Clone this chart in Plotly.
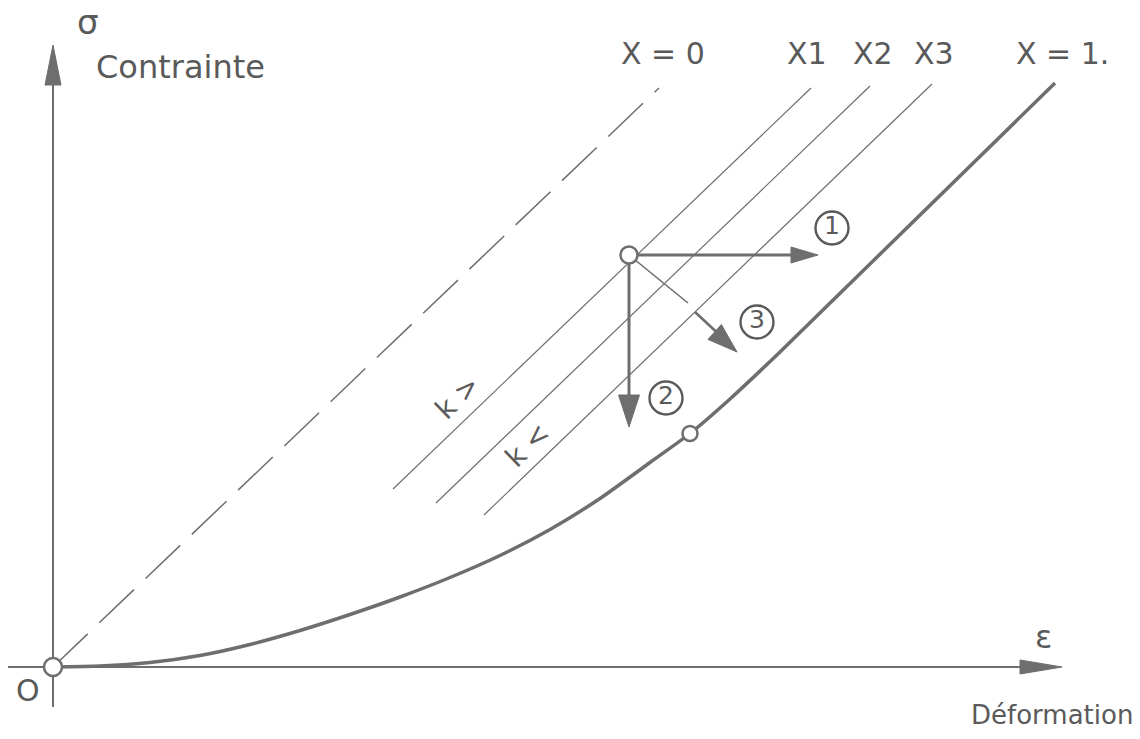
import numpy as np
import plotly.graph_objects as go

# ---------------- data (strain ε, stress σ in drawing units; origin = O) ----------------
curve_eps = [0, 47, 97, 147, 197, 247, 297, 347, 397, 447, 497, 547, 597, 637, 677, 727, 1002]
curve_sig = [0, 1, 4.5, 11.5, 22.5, 36.5, 52.5, 70, 89.5, 111.5, 137.5, 168.5, 204.5, 233.5, 268, 315, 584]

line_names = ["X=0", "X1", "X2", "X3"]
line_eps_start = [0, 340, 383, 431]
line_sig_start = [0, 178, 164, 152]
line_eps_end = [606, 758, 817, 879]
line_sig_end = [579, 579, 581, 583]

state_point = [576, 412]            # current state P
curve_mark = [637, 233.5]           # marked point on X = 1 curve
arrow1_tip = [765, 412]
arrow2_tip = [576, 240]
arrow3_mid = [[635, 364], [642, 355]]
arrow3_tip = [684, 315]

path_numbers = ["1", "2", "3"]
path_num_eps = [779, 613, 704]
path_num_sig = [439, 269, 345]

top_labels = ["X = 0", "X1", "X2", "X3", "X = 1."]
top_label_eps = [610, 754, 820, 881, 1009]
top_label_sig = [614, 614, 614, 614, 614]

eps_axis_end = 1009
sig_axis_end = 622
eps_axis_start = -45
sig_axis_start = -40

GRAY = "#6e6e6e"
TXT = "#5a5a5a"
FONT = "DejaVu Sans, Noto Sans CJK JP, sans-serif"

fig = go.Figure()


def seg(x0, y0, x1, y1, width=1.3, dash=None, color=GRAY):
    fig.add_trace(go.Scatter(x=[x0, x1], y=[y0, y1], mode="lines",
                             line=dict(color=color, width=width, dash=dash),
                             hoverinfo="skip", showlegend=False))


def head(tip, frm, length, width, color=GRAY):
    t = np.array(tip, float)
    d = t - np.array(frm, float)
    d /= np.linalg.norm(d)
    n = np.array([-d[1], d[0]])
    b = t - d * length
    p1 = b + n * width / 2
    p2 = b - n * width / 2
    fig.add_trace(go.Scatter(x=[t[0], p1[0], p2[0], t[0]], y=[t[1], p1[1], p2[1], t[1]],
                             mode="lines", fill="toself", fillcolor=color,
                             line=dict(color=color, width=1), hoverinfo="skip", showlegend=False))


# axes
seg(0, sig_axis_start, 0, sig_axis_end - 10, width=2)
seg(eps_axis_start, 0, eps_axis_end - 10, 0, width=2)
head([0, sig_axis_end], [0, 0], 40, 16)
head([eps_axis_end, 0], [0, 0], 42, 14)

# iso lines
for i, nm in enumerate(line_names):
    seg(line_eps_start[i], line_sig_start[i], line_eps_end[i], line_sig_end[i],
        width=1.5 if i == 0 else 1.2, dash="48px,16px" if i == 0 else None)

# X = 1 curve
fig.add_trace(go.Scatter(x=curve_eps, y=curve_sig, mode="lines",
                         line=dict(color=GRAY, width=3.5, shape="spline", smoothing=0.6),
                         hoverinfo="skip", showlegend=False))

# arrows from state point
seg(state_point[0], state_point[1], arrow1_tip[0] - 20, arrow1_tip[1], width=3)
head(arrow1_tip, state_point, 27, 16)
seg(state_point[0], state_point[1], arrow2_tip[0], arrow2_tip[1] + 25, width=3)
head(arrow2_tip, state_point, 32, 21)
seg(state_point[0], state_point[1], arrow3_mid[0][0], arrow3_mid[0][1], width=1.6)
seg(arrow3_mid[1][0], arrow3_mid[1][1], arrow3_tip[0] - 12, arrow3_tip[1] + 12, width=2.6)
head(arrow3_tip, state_point, 30, 20)

# open circles
fig.add_trace(go.Scatter(x=[0, state_point[0], curve_mark[0]], y=[0, state_point[1], curve_mark[1]],
                         mode="markers",
                         marker=dict(size=[18, 17, 15], color="white", opacity=1,
                                     line=dict(color=GRAY, width=2.5)),
                         hoverinfo="skip", showlegend=False))

# circled path numbers
fig.add_trace(go.Scatter(x=path_num_eps, y=path_num_sig, mode="markers+text",
                         text=path_numbers, textposition="middle center",
                         textfont=dict(family=FONT, size=25, color=TXT),
                         marker=dict(size=33, color="rgba(0,0,0,0)", line=dict(color=TXT, width=2.4)),
                         hoverinfo="skip", showlegend=False))

# labels
ann = []
for t, x, y in zip(top_labels, top_label_eps, top_label_sig):
    ann.append(dict(x=x, y=y, text=t, font=dict(size=30)))
ann += [
    dict(x=35, y=645, text="σ", font=dict(size=34)),
    dict(x=41, y=600, text="Contrainte", xanchor="left", font=dict(size=32)),
    dict(x=-25, y=-23, text="O", font=dict(size=30)),
    dict(x=990, y=30, text="ε", font=dict(size=32)),
    dict(x=1082, y=-48, text="Déformation", xanchor="right", font=dict(size=26)),
    dict(x=404, y=270, text="k >", textangle=-44, font=dict(size=28)),
    dict(x=474, y=222, text="k <", textangle=-44, font=dict(size=28)),
]
for a in ann:
    a.setdefault("xanchor", "center")
    a["yanchor"] = "middle"
    a["showarrow"] = False
    a["font"].setdefault("family", FONT)
    a["font"]["color"] = TXT
fig.update_layout(annotations=ann)

fig.update_layout(
    width=1140, height=739, autosize=False,
    margin=dict(l=0, r=0, t=0, b=0),
    paper_bgcolor="white", plot_bgcolor="white",
    xaxis=dict(range=[-53, 1087], visible=False, fixedrange=True),
    yaxis=dict(range=[-72, 667], visible=False, fixedrange=True),
    showlegend=False,
)

fig.write_html("out.html", config={"displayModeBar": False},
               post_script="document.body.style.margin='0';document.body.style.overflow='hidden';")
